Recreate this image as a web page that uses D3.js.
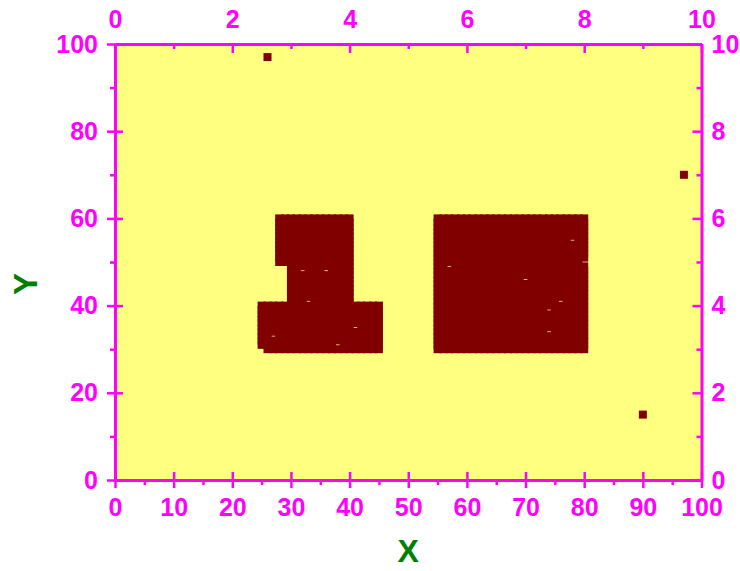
<!DOCTYPE html>
<html>
<head>
<meta charset="utf-8">
<script src="https://cdn.jsdelivr.net/npm/d3@7/dist/d3.min.js"></script>
<style>
  html, body { margin: 0; padding: 0; background: #ffffff; }
  svg text { font-family: "Liberation Sans", Arial, sans-serif; font-weight: bold; }
</style>
</head>
<body>
<svg id="chart" width="740" height="571"></svg>
<script>
// ---- data ----
// Filled blocks of grid points (inclusive ranges, step 1)
const blockX0 = [28, 30, 25, 26, 55];
const blockX1 = [40, 40, 45, 45, 80];
const blockY0 = [50, 41, 31, 30, 30];
const blockY1 = [60, 49, 40, 30, 60];
// grid points missing inside the blocks
const holeX = [32, 36, 33, 41, 27, 38, 78, 80, 57, 70, 76, 74, 74];
const holeY = [48, 48, 41, 35, 33, 31, 55, 50, 49, 46, 41, 39, 34];
// isolated points
const soloX = [26, 97, 90];
const soloY = [97, 70, 15];
// tick labels
const bottomTicks = [0, 10, 20, 30, 40, 50, 60, 70, 80, 90, 100];
const leftTicks = [0, 20, 40, 60, 80, 100];
const topTicks = [0, 2, 4, 6, 8, 10];
const rightTicks = [0, 2, 4, 6, 8, 10];

// build points
const holes = new Set(holeX.map((x, i) => x + "," + holeY[i]));
const points = [];
blockX0.forEach((x0, b) => {
  for (let y = blockY0[b]; y <= blockY1[b]; y++) {
    for (let x = x0; x <= blockX1[b]; x++) {
      if (!holes.has(x + "," + y)) points.push({x, y});
    }
  }
});
soloX.forEach((x, i) => points.push({x, y: soloY[i]}));

// ---- layout ----
const L = 115, R = 701.5, T = 44, B = 480;
const AX = "#ff00ff";
const svg = d3.select("#chart");

const x = d3.scaleLinear().domain([0, 100]).range([L, R]);
const y = d3.scaleLinear().domain([0, 100]).range([B, T]);
const x2 = d3.scaleLinear().domain([0, 10]).range([L, R]);
const y2 = d3.scaleLinear().domain([0, 10]).range([B, T]);

svg.append("rect").attr("x", L).attr("y", T).attr("width", R - L).attr("height", B - T)
  .attr("fill", "#ffff80");

const ms = 8;
svg.append("g").selectAll("rect").data(points).join("rect")
  .attr("x", d => x(d.x) - ms / 2)
  .attr("y", d => y(d.y) - ms / 2)
  .attr("width", ms).attr("height", ms)
  .attr("fill", "#800000");

function styleAxis(g) {
  g.select(".domain").attr("stroke", AX).attr("stroke-width", 3);
  g.selectAll(".tick line").attr("stroke", AX).attr("stroke-width", 2.5);
  g.selectAll(".tick text").attr("fill", AX).style("font-size", "25px");
}

// bottom axis
const gB = svg.append("g").attr("transform", `translate(0,${B})`)
  .call(d3.axisBottom(x).tickValues(bottomTicks).tickSize(8).tickSizeOuter(0).tickPadding(10));
styleAxis(gB);
gB.selectAll(".tick line").attr("y1", -8).attr("y2", 8);
gB.selectAll(".tick text").attr("dy", "0.71em").attr("y", 18);
svg.append("g").attr("transform", `translate(0,${B})`)
  .call(d3.axisBottom(x).tickValues(d3.range(5, 100, 10)).tickSize(5).tickFormat(""))
  .call(g => { g.select(".domain").remove(); g.selectAll(".tick line").attr("stroke", AX).attr("stroke-width", 2.5); });

// left axis
const gL = svg.append("g").attr("transform", `translate(${L},0)`)
  .call(d3.axisLeft(y).tickValues(leftTicks).tickSize(8).tickSizeOuter(0).tickPadding(9));
styleAxis(gL);
gL.selectAll(".tick line").attr("x1", -8).attr("x2", 8);
gL.selectAll(".tick text").attr("x", -17);
svg.append("g").attr("transform", `translate(${L},0)`)
  .call(d3.axisLeft(y).tickValues(d3.range(10, 100, 20)).tickSize(5).tickFormat(""))
  .call(g => { g.select(".domain").remove(); g.selectAll(".tick line").attr("stroke", AX).attr("stroke-width", 2.5); });

// top axis (inward ticks)
const gT = svg.append("g").attr("transform", `translate(0,${T})`)
  .call(d3.axisTop(x2).tickValues(topTicks).tickSize(-9).tickSizeOuter(0));
styleAxis(gT);
gT.selectAll(".tick text").attr("y", -16).attr("dy", "0");
svg.append("g").attr("transform", `translate(0,${T})`)
  .call(d3.axisTop(x2).tickValues(d3.range(1, 10, 2)).tickSize(-5).tickFormat(""))
  .call(g => { g.select(".domain").remove(); g.selectAll(".tick line").attr("stroke", AX).attr("stroke-width", 2.5); });

// right axis (inward ticks)
const gR = svg.append("g").attr("transform", `translate(${R},0)`)
  .call(d3.axisRight(y2).tickValues(rightTicks).tickSize(-9).tickSizeOuter(0));
styleAxis(gR);
gR.selectAll(".tick text").attr("x", 10);
svg.append("g").attr("transform", `translate(${R},0)`)
  .call(d3.axisRight(y2).tickValues(d3.range(1, 10, 2)).tickSize(-5).tickFormat(""))
  .call(g => { g.select(".domain").remove(); g.selectAll(".tick line").attr("stroke", AX).attr("stroke-width", 2.5); });

// axis titles
svg.append("text").attr("x", (L + R) / 2).attr("y", 562)
  .attr("text-anchor", "middle").attr("fill", "#008000").style("font-size", "32px").text("X");
svg.append("text").attr("transform", "translate(36.5,284) rotate(-90)")
  .attr("text-anchor", "middle").attr("fill", "#008000").style("font-size", "33px").text("Y");
</script>
</body>
</html>
